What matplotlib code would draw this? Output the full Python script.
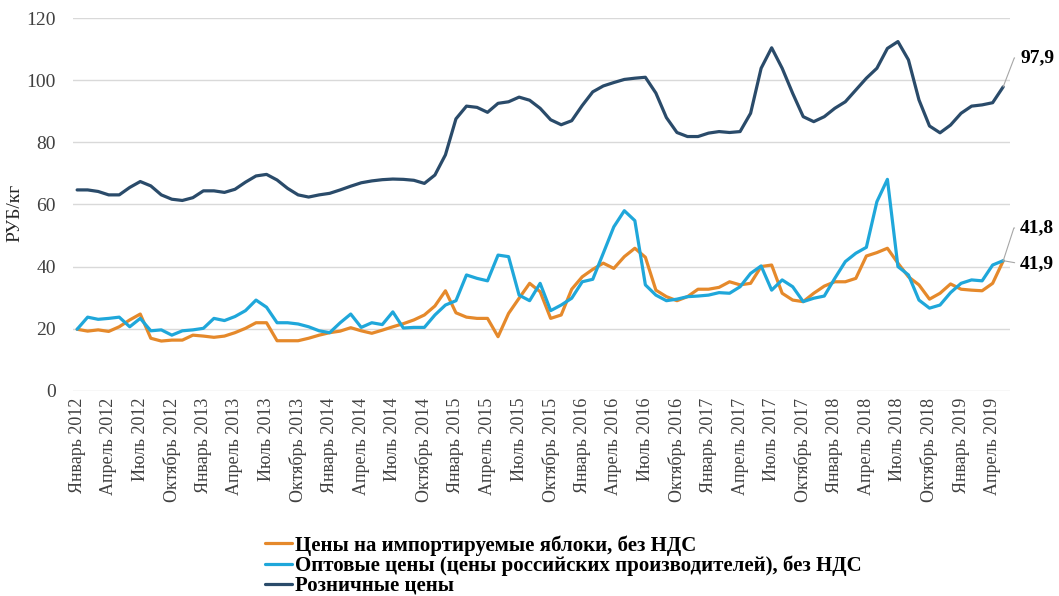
import matplotlib
matplotlib.use("Agg")
import matplotlib.pyplot as plt
import numpy as np

# ---- data (monthly, Jan 2012 .. May 2019) ----
imported = [19.8, 19.2, 19.6, 19.1, 20.6, 22.8, 24.7, 16.9, 16.0, 16.3, 16.3, 17.9,
            17.6, 17.2, 17.6, 18.7, 20.1, 21.9, 21.9, 16.1, 16.1, 16.1, 16.9, 17.9,
            18.7, 19.2, 20.3, 19.3, 18.5, 19.5, 20.6, 21.6, 22.8, 24.4, 27.3, 32.2,
            25.1, 23.7, 23.3, 23.3, 17.4, 24.9, 29.8, 34.6, 31.9, 23.3, 24.4, 32.7,
            36.7, 39.1, 41.1, 39.4, 43.2, 45.9, 43.0, 32.4, 30.3, 29.0, 30.3, 32.7,
            32.7, 33.3, 35.1, 34.1, 34.6, 40.0, 40.5, 31.4, 29.2, 28.7, 31.4, 33.7,
            35.1, 35.1, 36.2, 43.4, 44.5, 45.9, 41.1, 36.7, 34.1, 29.5, 31.4, 34.4,
            32.7, 32.4, 32.2, 34.6, 41.8]
wholesale = [19.8, 23.7, 23.0, 23.3, 23.7, 20.6, 23.3, 19.3, 19.6, 17.9, 19.3, 19.6,
             20.1, 23.3, 22.6, 23.9, 25.8, 29.2, 26.9, 21.9, 21.9, 21.5, 20.6, 19.3,
             18.7, 21.9, 24.7, 20.4, 21.9, 21.3, 25.4, 20.2, 20.4, 20.4, 24.4, 27.6,
             29.0, 37.3, 36.2, 35.4, 43.7, 43.2, 30.8, 29.0, 34.6, 25.8, 27.6, 29.8,
             35.1, 35.9, 44.3, 52.8, 58.0, 54.8, 34.1, 30.8, 29.0, 29.5, 30.3, 30.5,
             30.8, 31.6, 31.4, 33.5, 37.8, 40.2, 32.4, 35.7, 33.5, 28.7, 29.8, 30.5,
             36.2, 41.6, 44.3, 46.2, 60.9, 68.1, 40.0, 37.3, 29.2, 26.6, 27.6, 31.6,
             34.6, 35.7, 35.4, 40.5, 41.9]
retail = [64.7, 64.7, 64.2, 63.1, 63.1, 65.5, 67.4, 66.0, 63.1, 61.7, 61.3, 62.2,
          64.4, 64.4, 63.9, 64.9, 67.2, 69.2, 69.7, 67.9, 65.2, 63.1, 62.4, 63.1,
          63.6, 64.7, 65.9, 67.0, 67.6, 68.0, 68.2, 68.1, 67.8, 66.8, 69.5, 76.0,
          87.6, 91.7, 91.3, 89.7, 92.6, 93.1, 94.6, 93.6, 91.0, 87.3, 85.7, 87.0,
          91.9, 96.3, 98.2, 99.3, 100.3, 100.7, 101.0, 95.9, 88.0, 83.2, 81.9, 81.9,
          83.0, 83.5, 83.2, 83.5, 89.4, 103.9, 110.5, 103.9, 95.8, 88.3, 86.7, 88.3,
          91.0, 93.1, 96.9, 100.7, 103.9, 110.3, 112.5, 106.6, 93.7, 85.3, 83.1, 85.6,
          89.4, 91.7, 92.1, 92.8, 97.9]

tick_labels = ["Январь 2012", "Апрель 2012", "Июль 2012", "Октябрь 2012",
               "Январь 2013", "Апрель 2013", "Июль 2013", "Октябрь 2013",
               "Январь 2014", "Апрель 2014", "Июль 2014", "Октябрь 2014",
               "Январь 2015", "Апрель 2015", "Июль 2015", "Октябрь 2015",
               "Январь 2016", "Апрель 2016", "Июль 2016", "Октябрь 2016",
               "Январь 2017", "Апрель 2017", "Июль 2017", "Октябрь 2017",
               "Январь 2018", "Апрель 2018", "Июль 2018", "Октябрь 2018",
               "Январь 2019", "Апрель 2019"]
series_names = ["Цены на импортируемые яблоки, без НДС",
                "Оптовые цены (цены российских производителей), без НДС",
                "Розничные цены"]
end_labels = ["41,8", "41,9", "97,9"]

colors = ["#E5892B", "#1FA7DA", "#2A4B6A"]
SERIF = ["Liberation Serif", "DejaVu Serif"]
plt.rcParams["font.family"] = SERIF

fig = plt.figure(figsize=(10.59, 5.96), dpi=100)
ax = fig.add_axes([72.7 / 1059, 1 - 390.7 / 596, (1010 - 72.7) / 1059, (390.7 - 18.3) / 596])

x = np.arange(len(retail))
lines = []
for vals, c, name in zip([imported, wholesale, retail], colors, series_names):
    ln, = ax.plot(x, vals, color=c, lw=2.3, label=name, solid_joinstyle="round",
                  solid_capstyle="round")
    lines.append(ln)

ax.set_ylim(0, 120)
ax.set_yticks(np.arange(0, 121, 20))
ax.set_xlim(-0.42, 88.65)
ax.set_xticks(np.arange(0, len(tick_labels) * 3, 3))
ax.set_xticklabels(tick_labels, rotation=90, fontsize=13, color="#404040")
ax.tick_params(axis="y", labelsize=14, labelcolor="#404040", length=0, pad=12)
ax.tick_params(axis="x", length=0, pad=5)
ax.grid(axis="y", color="#D9D9D9", lw=1)
ax.set_axisbelow(True)
for s in ax.spines.values():
    s.set_visible(False)

fig.text(15 / 1059, 1 - 213 / 596, "РУБ/кг", rotation=90, fontsize=14,
         color="#262626", ha="center", va="center")

# end value labels
ann = [(imported[-1], end_labels[0], (17, 33), 72),
       (wholesale[-1], end_labels[1], (17, -3), None),
       (retail[-1], end_labels[2], (17, 29), 69)]
for val, txt, off, ang in ann:
    if ang is None:
        cs = "arc3"
    else:
        cs = "angle,angleA=0,angleB=%d,rad=0" % ang
    ax.annotate(txt, xy=(len(retail) - 1, val), xytext=off, textcoords="offset pixels",
                fontsize=14, fontweight="bold", color="#000000", ha="left", va="center",
                annotation_clip=False,
                arrowprops=dict(arrowstyle="-", color="#A6A6A6", lw=0.8,
                                connectionstyle=cs, shrinkA=2, shrinkB=0,
                                relpos=(0, 0.5)))

leg = fig.legend(handles=lines, loc="upper left", bbox_to_anchor=(265 / 1059, 1 - 535 / 596),
                 frameon=False, prop={"family": SERIF, "weight": "bold", "size": 15},
                 handlelength=1.3, handletextpad=0.12, labelspacing=0.0,
                 borderaxespad=0, borderpad=0)

fig.savefig("out.png", dpi=100)
